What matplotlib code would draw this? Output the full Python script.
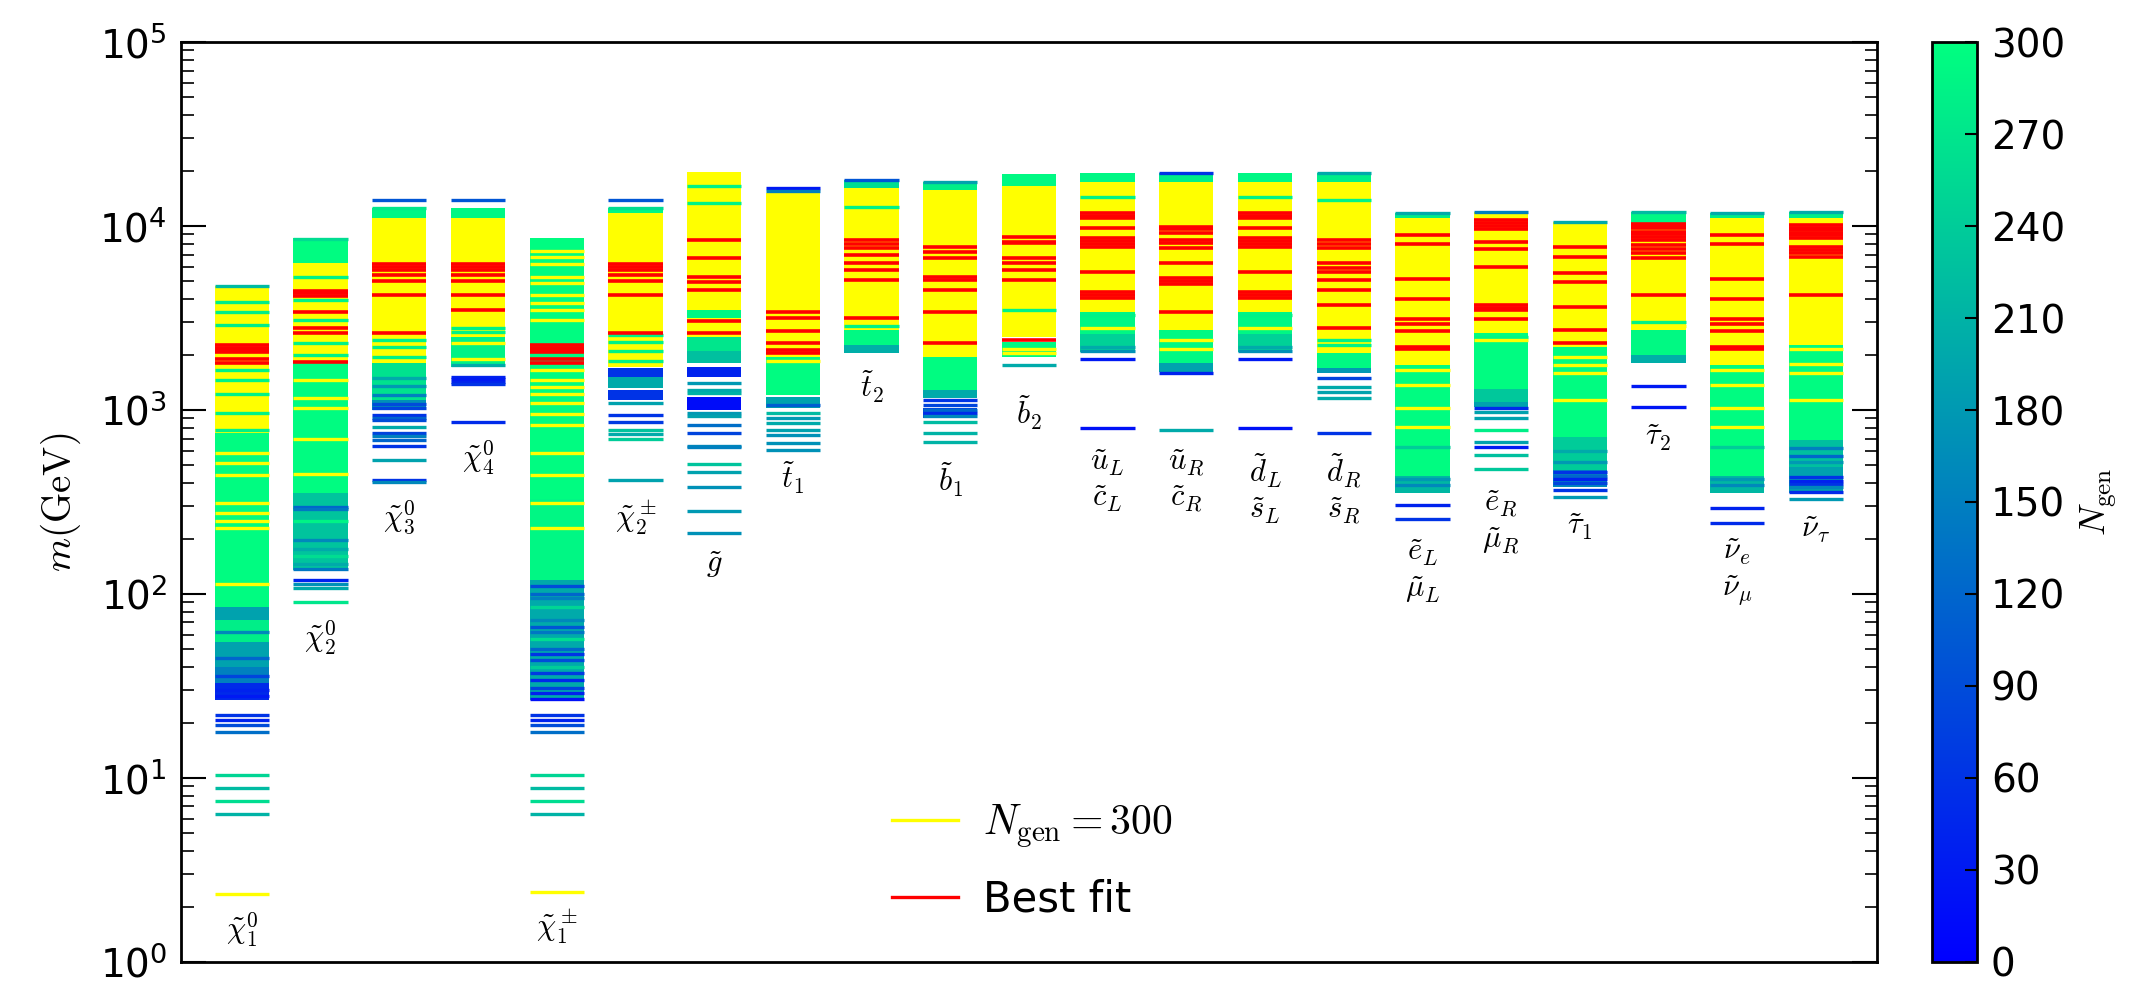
import matplotlib
matplotlib.use("Agg")
import matplotlib.pyplot as plt
from matplotlib import cm, colors
from matplotlib.lines import Line2D

# particle labels and where they sit (mass in GeV)
labels = [r"$\tilde{\chi}_1^0$", r"$\tilde{\chi}_2^0$", r"$\tilde{\chi}_3^0$", r"$\tilde{\chi}_4^0$",
          r"$\tilde{\chi}_1^\pm$", r"$\tilde{\chi}_2^\pm$", r"$\tilde{g}$", r"$\tilde{t}_1$",
          r"$\tilde{t}_2$", r"$\tilde{b}_1$", r"$\tilde{b}_2$",
          "$\\tilde{u}_L$\n$\\tilde{c}_L$", "$\\tilde{u}_R$\n$\\tilde{c}_R$",
          "$\\tilde{d}_L$\n$\\tilde{s}_L$", "$\\tilde{d}_R$\n$\\tilde{s}_R$",
          "$\\tilde{e}_L$\n$\\tilde{\\mu}_L$", "$\\tilde{e}_R$\n$\\tilde{\\mu}_R$",
          r"$\tilde{\tau}_1$", r"$\tilde{\tau}_2$",
          "$\\tilde{\\nu}_e$\n$\\tilde{\\nu}_\\mu$", r"$\tilde{\nu}_\tau$"]
label_mass = [1.49, 58, 259, 548, 1.55, 259, 144, 427, 1333, 417, 963,
              411, 411, 372, 372, 132, 246, 231, 704, 132, 223]

# bands: (m_low, m_high, N_gen), lines: (m, N_gen), best: m   -- GeV
chi10_bands = [(750, 4750, 300), (85, 750, 296), (72, 85, 190), (55, 72, 280),
               (40, 55, 190), (33, 40, 150), (26.5, 33, 50)]
chi10_lines = [(4750, 220), (3870, 280), (3400, 280), (2900, 280), (1650, 285), (1460, 285),
               (1220, 285), (965, 285), (780, 285), (583, 300), (515, 300), (445, 300),
               (313, 300), (276, 300), (248, 300), (228, 300), (114, 300), (62, 160),
               (45, 120), (36, 80), (30, 40), (28, 30), (22, 60), (20.7, 40), (19.4, 90),
               (17.8, 130), (10.4, 250), (8.8, 220), (7.5, 260), (6.4, 210), (2.35, 300)]
chi10_best = [2250, 2180, 2120, 2060, 1900, 1800]

chi20_bands = [(6270, 8600, 296), (1800, 6270, 300), (355, 1800, 296), (135, 355, 230)]
chi20_lines = [(8500, 260), (5300, 285), (3960, 285), (3100, 285), (2300, 285), (2000, 285),
               (1460, 300), (1160, 300), (1020, 300), (700, 300), (450, 300), (297, 120),
               (290, 140), (250, 285), (197, 160), (175, 200), (160, 260), (145, 200),
               (137, 140), (119, 40), (114, 170), (108, 200), (90, 270)]
chi20_best = [4450, 4300, 4150, 3400, 2800, 2620, 1820]

chi30_bands = [(11000, 12600, 290), (1800, 11000, 300), (1130, 1800, 265), (1000, 1130, 170)]
chi30_lines = [(13800, 100), (12600, 270), (2400, 285), (2200, 285), (1950, 285), (1500, 200),
               (1350, 180), (1200, 150), (1080, 90), (1030, 80), (940, 60), (900, 120),
               (880, 90), (810, 200), (750, 80), (720, 150), (690, 120), (640, 60),
               (535, 190), (417, 60), (405, 160)]
chi30_best = [6200, 6000, 5800, 5400, 5000, 4220, 2620]

chi40_bands = [(11000, 12600, 290), (2500, 11000, 300), (1720, 2500, 285)]
chi40_lines = [(13800, 100), (2800, 285), (2650, 285), (2300, 300), (1900, 300), (1750, 200),
               (1510, 40), (1470, 30), (1420, 40), (1380, 60), (860, 50)]
chi40_best = [6200, 6000, 5800, 5400, 5000, 4220, 3490]

chi1c_bands = [(330, 8600, 296), (119, 330, 290), (26.5, 119, 200)]
chi1c_lines = [(7300, 300), (6800, 300), (6200, 300), (5300, 300), (4900, 300), (4200, 300),
               (3800, 300), (3500, 300), (3100, 300), (1650, 300), (1460, 300), (1330, 300),
               (1220, 300), (1085, 300), (950, 300), (830, 300), (583, 300), (445, 300),
               (313, 300), (228, 300), (110, 90), (100, 120), (95, 150), (85, 250), (72, 160),
               (66, 100), (62, 140), (57, 260), (50, 120), (47, 60), (44, 90), (40, 240),
               (37, 70), (34, 50), (31, 80), (29, 40), (27, 20), (22, 60), (20.7, 40),
               (19.4, 90), (17.8, 130), (10.4, 250), (8.8, 220), (7.5, 260), (6.4, 210),
               (2.4, 300)]
chi1c_best = [2250, 2180, 2120, 2060, 1900, 1800]

chi2c_bands = [(11700, 12600, 290), (1720, 11700, 300), (1510, 1700, 60), (1320, 1510, 200),
               (1130, 1280, 60)]
chi2c_lines = [(13800, 100), (12600, 260), (2550, 285), (2350, 285), (2100, 285), (1850, 285),
               (1085, 190), (940, 60), (860, 70), (780, 230), (740, 200), (700, 240), (417, 190)]
chi2c_best = [6200, 6000, 5800, 5400, 5000, 4220, 2620]

gluino_bands = [(3490, 19600, 300), (3170, 3490, 290), (2500, 3170, 300), (2100, 2500, 270),
                (1800, 2100, 225), (1510, 1720, 40), (1000, 1180, 15)]
gluino_lines = [(16400, 285), (13300, 285), (1400, 180), (1280, 200), (1230, 210), (960, 180),
                (930, 190), (825, 130), (750, 80), (640, 160), (630, 150), (510, 230),
                (463, 190), (380, 170), (282, 180), (215, 170)]
gluino_best = [8390, 6680, 5300, 4960, 4490, 3050, 2620]

t1_bands = [(1940, 15200, 300), (1210, 1940, 296), (1030, 1180, 190)]
t1_lines = [(16000, 30), (15500, 150), (1850, 300), (1060, 110), (960, 220), (900, 180),
            (850, 200), (780, 190), (735, 170), (660, 170), (606, 170)]
t1_best = [3400, 3150, 2700, 2320, 2120, 2050]

t2_bands = [(16000, 17700, 260), (2720, 16000, 300), (2250, 2720, 292), (2050, 2250, 205)]
t2_lines = [(17700, 100), (12700, 285), (2850, 285)]
t2_best = [8390, 8000, 7600, 6950, 6290, 5770, 5090, 3170]

b1_bands = [(15700, 17300, 280), (1940, 15700, 300), (1230, 1940, 296), (1160, 1280, 200),
            (900, 1030, 80)]
b1_lines = [(17300, 190), (1130, 60), (1060, 80), (1000, 120), (960, 50), (930, 160),
            (860, 220), (750, 210), (670, 210)]
b1_best = [7700, 7200, 6700, 5300, 5090, 4490, 3400, 2320]

b2_bands = [(16500, 19200, 292), (2500, 16500, 300), (1940, 2350, 292)]
b2_lines = [(3490, 285), (2150, 300), (2050, 300), (1750, 200)]
b2_best = [8760, 8170, 8080, 6700, 6270, 5770, 5090, 2400]

uL_bands = [(17300, 19300, 290), (3400, 17300, 300), (2600, 3400, 290), (2070, 2600, 245)]
uL_lines = [(14400, 285), (3300, 285), (2800, 300), (2200, 200), (2100, 170), (1890, 30),
            (795, 20)]
uL_best = [11700, 11400, 11100, 9800, 8650, 8300, 8000, 7700, 5650, 4380, 4200, 4050]

uR_bands = [(17300, 19300, 280), (2720, 17300, 300), (1800, 2720, 292), (1600, 1800, 190)]
uR_lines = [(19300, 60), (2400, 300), (2150, 300), (1590, 40), (780, 200)]
uR_best = [9900, 9600, 9200, 8390, 8100, 7600, 6270, 5200, 5000, 4860, 3400]

dL_bands = [(17300, 19300, 290), (3400, 17300, 300), (2600, 3400, 290), (2070, 2600, 245)]
dL_lines = [(14400, 285), (3300, 285), (2800, 300), (2200, 200), (2100, 170), (1890, 30),
            (795, 20)]
dL_best = [11700, 11400, 11100, 9800, 8650, 8300, 8000, 7700, 5650, 4380, 4200, 4050]

dR_bands = [(17300, 19300, 280), (2050, 17300, 300), (1700, 2050, 292), (1580, 1700, 180)]
dR_lines = [(19300, 200), (13800, 285), (2400, 285), (2250, 285), (1490, 80), (1330, 200),
            (1250, 190), (1160, 200), (750, 60)]
dR_best = [8390, 8000, 7600, 6270, 5900, 5650, 5090, 4490, 3720, 2790]

eL_bands = [(11100, 11700, 280), (1750, 11100, 300), (440, 1750, 296), (355, 440, 215)]
eL_lines = [(11700, 200), (1650, 300), (1370, 300), (1030, 300), (810, 300), (630, 240),
            (420, 180), (390, 160), (306, 40), (256, 60)]
eL_best = [8900, 8010, 5140, 4000, 3110, 2930, 2690, 2200, 2150]

eR_bands = [(2620, 11900, 300), (1300, 2620, 296), (1100, 1300, 235), (1040, 1100, 190)]
eR_lines = [(11900, 150), (2500, 290), (2400, 300), (1030, 50), (980, 190), (900, 190),
            (780, 280), (670, 190), (630, 30), (570, 225), (480, 235)]
eR_best = [10800, 10400, 10000, 9600, 8170, 7500, 5960, 3720, 3600, 3490, 3110]

tau1_bands = [(2200, 10500, 300), (715, 2200, 296), (472, 715, 240), (380, 472, 160)]
tau1_lines = [(10500, 200), (1940, 300), (1750, 300), (1590, 300), (1130, 300), (600, 200),
              (520, 180), (460, 60), (440, 120), (420, 40), (400, 80), (368, 60), (335, 180)]
tau1_best = [7700, 6750, 5560, 4960, 3610, 2720, 2320]

tau2_bands = [(10300, 11900, 290), (2720, 10300, 300), (1990, 2720, 292), (1800, 1990, 205)]
tau2_lines = [(11900, 220), (3000, 285), (2850, 300), (1350, 30), (1040, 25)]
tau2_best = [10300, 10000, 9800, 9300, 9000, 8700, 8390, 7900, 7500, 7100, 6700, 4200]

nue_bands = [(11100, 11700, 280), (1750, 11100, 300), (440, 1750, 296), (355, 440, 215)]
nue_lines = [(11700, 200), (1650, 300), (1370, 300), (1030, 300), (810, 300), (630, 240),
             (420, 180), (390, 160), (294, 40), (242, 50)]
nue_best = [8900, 8010, 5140, 4000, 3110, 2930, 2690, 2200, 2150]

nutau_bands = [(11100, 11900, 280), (2250, 11100, 300), (690, 2250, 296), (490, 690, 225),
               (355, 490, 190)]
nutau_lines = [(11900, 200), (2150, 300), (1780, 300), (1590, 300), (1130, 300), (620, 150),
               (560, 120), (520, 180), (430, 60), (410, 40), (395, 60), (380, 160), (360, 50),
               (330, 180)]
nutau_best = [10100, 9800, 9500, 9200, 8900, 8600, 7700, 7400, 7100, 6750, 4200]

columns = [(chi10_bands, chi10_lines, chi10_best), (chi20_bands, chi20_lines, chi20_best),
           (chi30_bands, chi30_lines, chi30_best), (chi40_bands, chi40_lines, chi40_best),
           (chi1c_bands, chi1c_lines, chi1c_best), (chi2c_bands, chi2c_lines, chi2c_best),
           (gluino_bands, gluino_lines, gluino_best), (t1_bands, t1_lines, t1_best),
           (t2_bands, t2_lines, t2_best), (b1_bands, b1_lines, b1_best),
           (b2_bands, b2_lines, b2_best), (uL_bands, uL_lines, uL_best),
           (uR_bands, uR_lines, uR_best), (dL_bands, dL_lines, dL_best),
           (dR_bands, dR_lines, dR_best), (eL_bands, eL_lines, eL_best),
           (eR_bands, eR_lines, eR_best), (tau1_bands, tau1_lines, tau1_best),
           (tau2_bands, tau2_lines, tau2_best), (nue_bands, nue_lines, nue_best),
           (nutau_bands, nutau_lines, nutau_best)]

cmap = plt.get_cmap("winter")
norm = colors.Normalize(vmin=0, vmax=300)


def ncolor(n):
    # N_gen = 300 points are drawn yellow, the rest on the winter scale
    return "yellow" if n >= 300 else cmap(norm(n))


fig = plt.figure(figsize=(21.49, 9.82), dpi=100)
ax = fig.add_axes([0.0842, 0.0204, 0.7892, 0.9368])
cax = fig.add_axes([0.899, 0.0204, 0.0209, 0.9368])

hw = 0.345  # half width of each column
for i, (bands, lines, best) in enumerate(columns):
    for lo, hi, n in bands:
        ax.bar(i, hi - lo, bottom=lo, width=2 * hw, color=ncolor(n), linewidth=0)
    for m, n in lines:
        ax.hlines(m, i - hw, i + hw, colors=[ncolor(n)], lw=2.4)
    ax.hlines(best, i - hw, i + hw, colors="red", lw=2.6)
    ax.text(i, label_mass[i], labels[i], ha="center", va="center", fontsize=22,
            math_fontfamily="cm", linespacing=1.25)

ax.set_yscale("log")
ax.set_ylim(1, 1e5)
ax.set_xlim(-0.775, len(columns) - 1 + 0.775)
ax.set_xticks([])
ax.tick_params(axis="y", which="both", direction="in", right=True, labelsize=28, pad=10)
ax.tick_params(axis="y", which="major", length=18, width=1.5)
ax.tick_params(axis="y", which="minor", length=9, width=1.2)
for sp in ax.spines.values():
    sp.set_linewidth(2)
ax.set_ylabel(r"$m(\mathrm{GeV})$", fontsize=28, math_fontfamily="cm", labelpad=12)

handles = [Line2D([], [], color="yellow", lw=2.4), Line2D([], [], color="red", lw=2.4)]
leg = ax.legend(handles, [r"$N_{\rm gen} = 300$", "Best fit"], loc="lower left",
                bbox_to_anchor=(0.397, 0.004), frameon=False, fontsize=30,
                handlelength=1.6, handletextpad=0.6, labelspacing=0.7)
leg.get_texts()[0].set_math_fontfamily("cm")

sm = cm.ScalarMappable(norm=norm, cmap=cmap)
cb = fig.colorbar(sm, cax=cax, ticks=list(range(0, 301, 30)))
cb.ax.tick_params(direction="in", length=9, width=1.5, labelsize=28, pad=10)
cb.outline.set_linewidth(2)
cb.set_label(r"$N_{\rm gen}$", fontsize=26, math_fontfamily="cm", labelpad=10)

fig.savefig("out.png", dpi=100)
